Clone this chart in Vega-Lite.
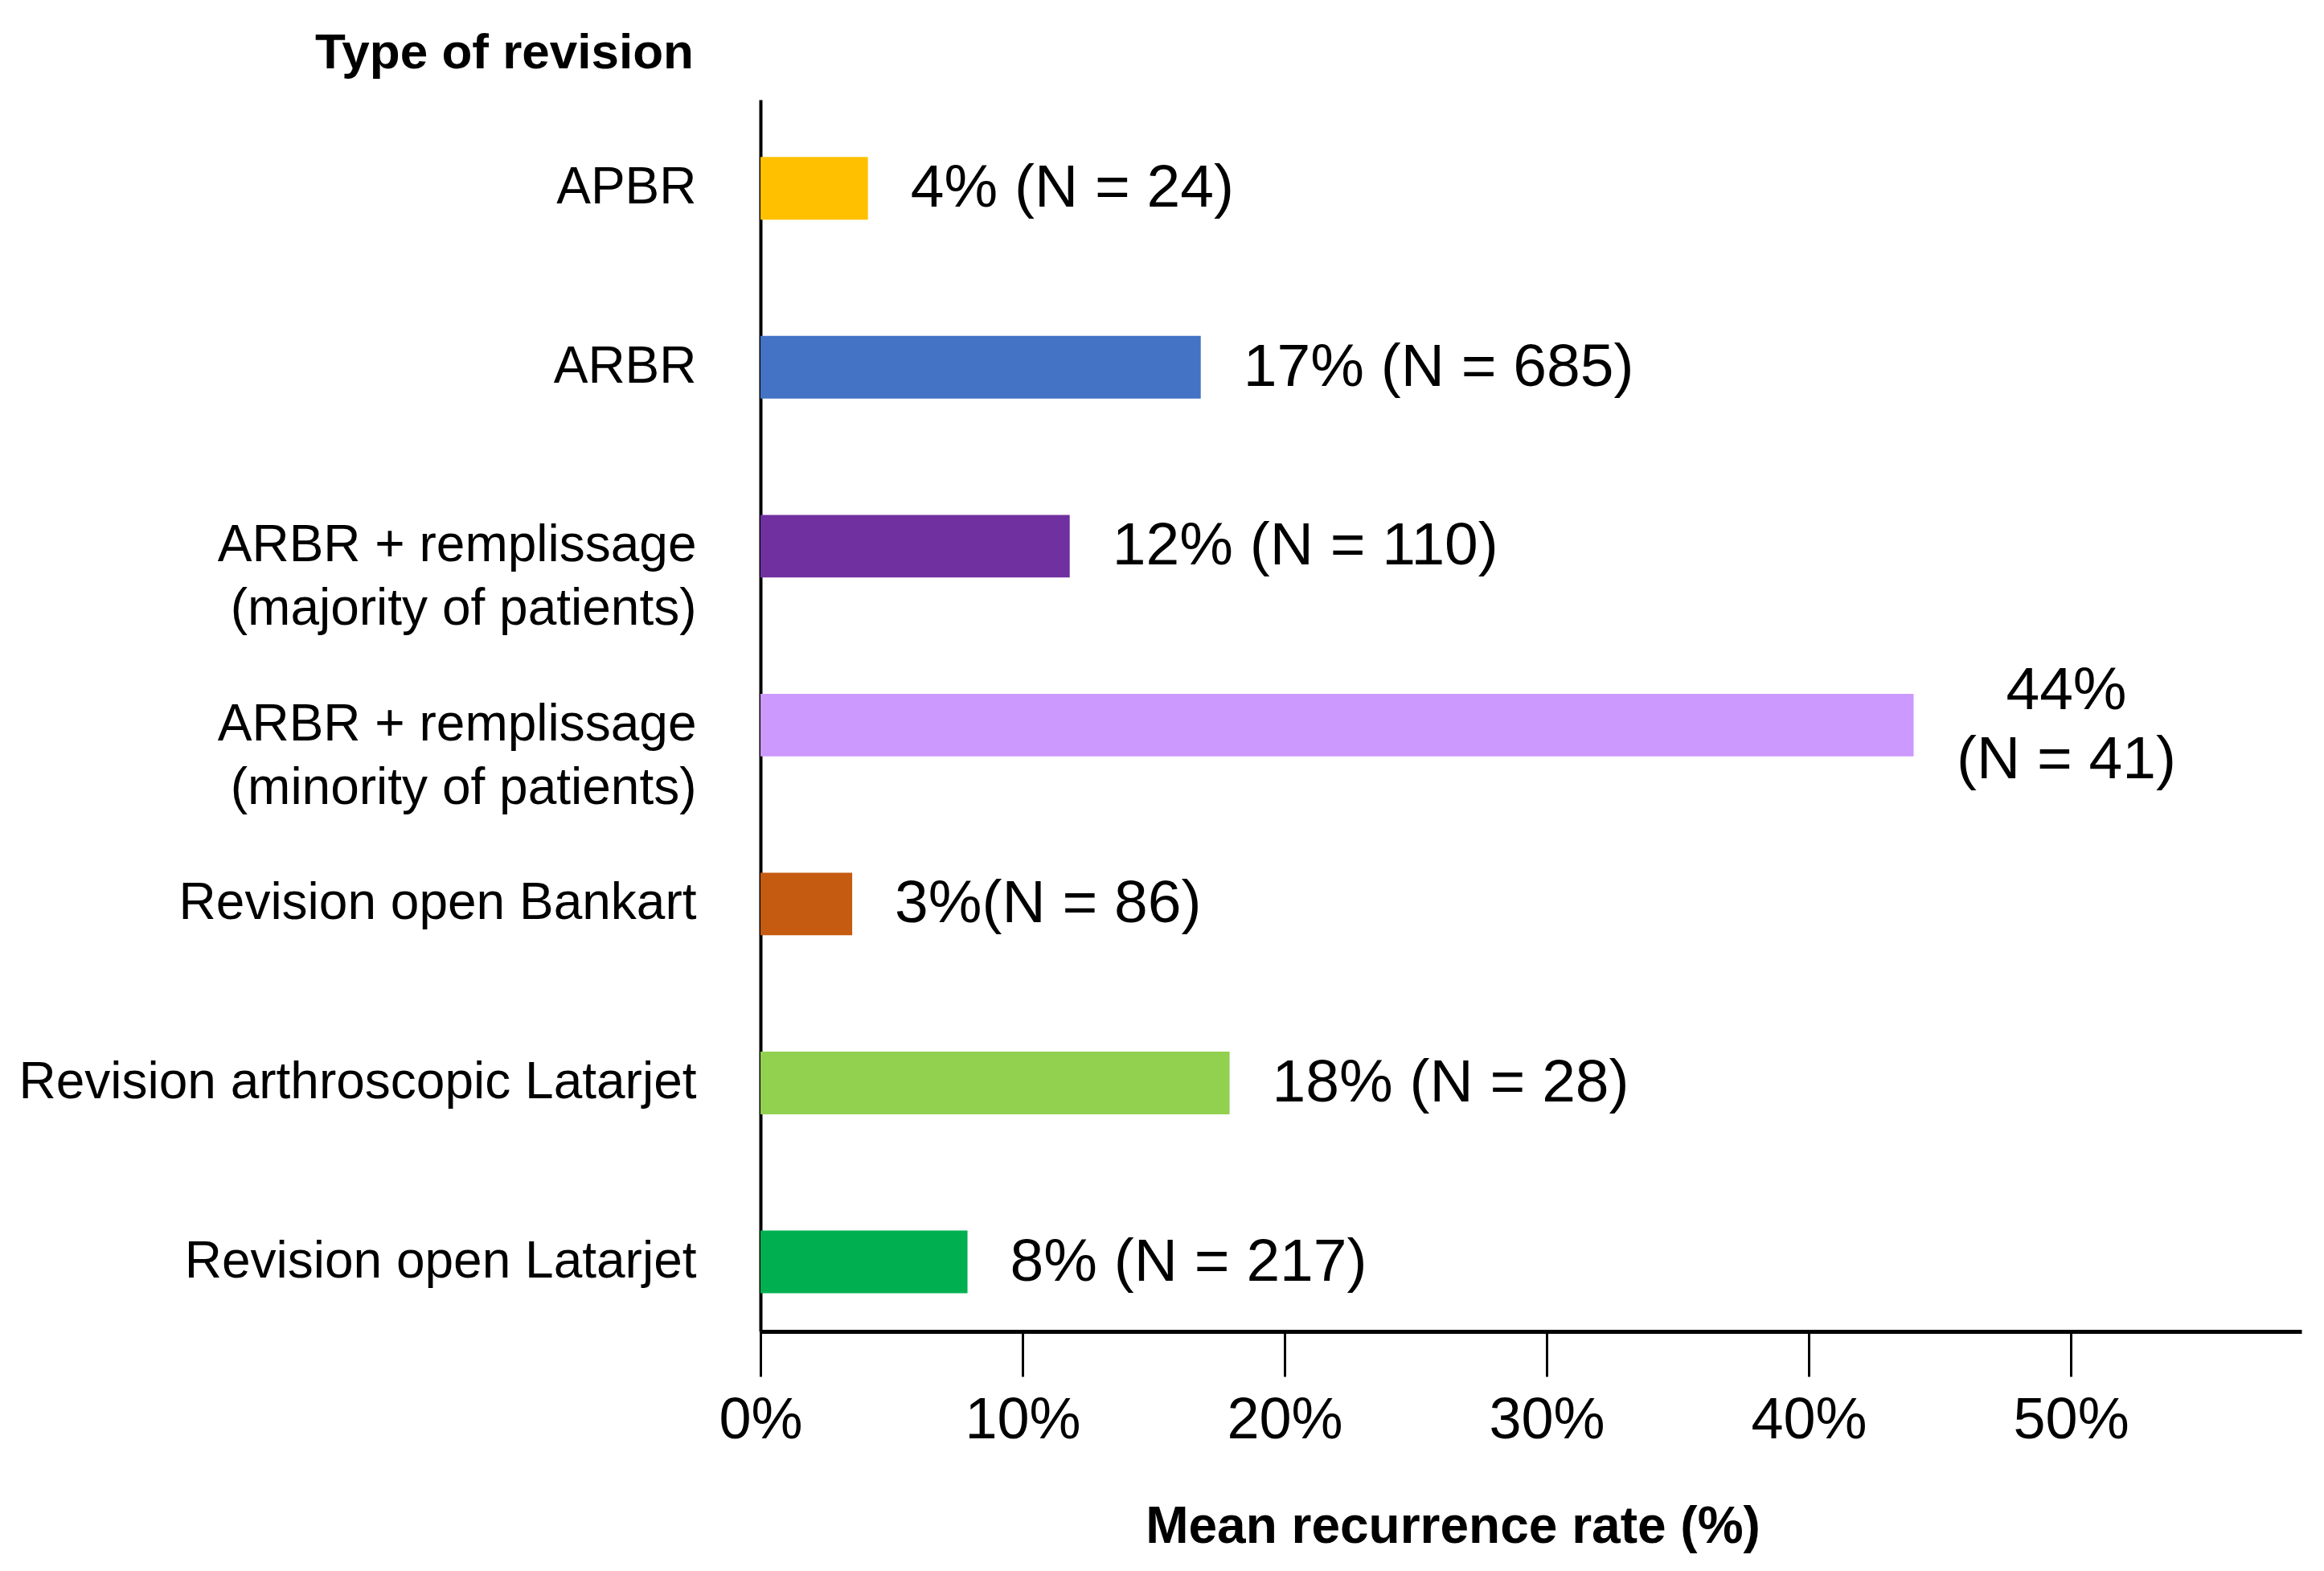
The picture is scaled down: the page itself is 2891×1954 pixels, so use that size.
{
  "$schema": "https://vega.github.io/schema/vega-lite/v6.json",
  "width": 1917,
  "height": 1532,
  "autosize": {"type": "none"},
  "padding": {"left": 946, "top": 124, "right": 28, "bottom": 298},
  "background": "white",
  "config": {"view": {"stroke": null}},
  "data": {
    "values": [
      {"type": "APBR", "rate": 4.1, "label": "4% (N = 24)"},
      {"type": "ARBR", "rate": 16.8, "label": "17% (N = 685)"},
      {"type": "ARBR + remplissage|(majority of patients)", "rate": 11.8, "label": "12% (N = 110)"},
      {"type": "ARBR + remplissage|(minority of patients)", "rate": 44.0, "label": "44%\n(N = 41)"},
      {"type": "Revision open Bankart", "rate": 3.5, "label": "3%(N = 86)"},
      {"type": "Revision arthroscopic Latarjet", "rate": 17.9, "label": "18% (N = 28)"},
      {"type": "Revision open Latarjet", "rate": 7.9, "label": "8% (N = 217)"}
    ]
  },
  "encoding": {
    "y": {
      "field": "type",
      "type": "nominal",
      "sort": null,
      "scale": {"paddingInner": 0.65, "paddingOuter": 0.267, "align": 0.6},
      "axis": {
        "labelExpr": "split(datum.label, '|')",
        "domain": true,
        "domainColor": "black",
        "domainWidth": 4,
        "ticks": false,
        "grid": false,
        "labelFont": "Liberation Sans",
        "labelFontSize": 64,
        "labelColor": "black",
        "labelPadding": 80,
        "labelLineHeight": 79,
        "labelLimit": 1200,
        "title": "Type of revision",
        "titleAngle": 0,
        "titleX": -319,
        "titleY": -59,
        "titleAlign": "center",
        "titleBaseline": "middle",
        "titleFont": "Liberation Sans",
        "titleFontWeight": "bold",
        "titleFontSize": 62,
        "titleColor": "black"
      }
    }
  },
  "layer": [
    {
      "mark": {"type": "bar"},
      "encoding": {
        "x": {
          "field": "rate",
          "type": "quantitative",
          "scale": {"domain": [0, 58.8], "nice": false},
          "axis": {
            "values": [0, 10, 20, 30, 40, 50],
            "labelExpr": "datum.value + '%'",
            "grid": false,
            "domainColor": "black",
            "domainWidth": 5,
            "tickColor": "black",
            "tickWidth": 3,
            "tickSize": 56,
            "labelFont": "Liberation Sans",
            "labelFontSize": 72,
            "labelColor": "black",
            "labelBaseline": "middle",
            "labelPadding": 54,
            "labelFlush": false,
            "title": "Mean recurrence rate (%)",
            "titleX": 861,
            "titleY": 243,
            "titleAlign": "center",
            "titleBaseline": "middle",
            "titleFont": "Liberation Sans",
            "titleFontWeight": "bold",
            "titleFontSize": 64,
            "titleColor": "black"
          }
        },
        "color": {
          "field": "type",
          "type": "nominal",
          "legend": null,
          "scale": {
            "domain": ["APBR", "ARBR", "ARBR + remplissage|(majority of patients)", "ARBR + remplissage|(minority of patients)", "Revision open Bankart", "Revision arthroscopic Latarjet", "Revision open Latarjet"],
            "range": ["#FFC000", "#4472C4", "#7030A0", "#CC99FF", "#C55A11", "#92D050", "#00B050"]
          }
        }
      }
    },
    {
      "transform": [{"filter": "datum.rate < 40"}],
      "mark": {"type": "text", "align": "left", "baseline": "middle", "dx": 53, "fontSize": 75, "font": "Liberation Sans", "color": "black"},
      "encoding": {
        "x": {"field": "rate", "type": "quantitative"},
        "text": {"field": "label"}
      }
    },
    {
      "transform": [{"filter": "datum.rate >= 40"}],
      "mark": {"type": "text", "align": "center", "baseline": "middle", "dx": 190, "dy": -43, "fontSize": 75, "font": "Liberation Sans", "color": "black", "lineBreak": "\n", "lineHeight": 86},
      "encoding": {
        "x": {"field": "rate", "type": "quantitative"},
        "text": {"field": "label"}
      }
    }
  ]
}
